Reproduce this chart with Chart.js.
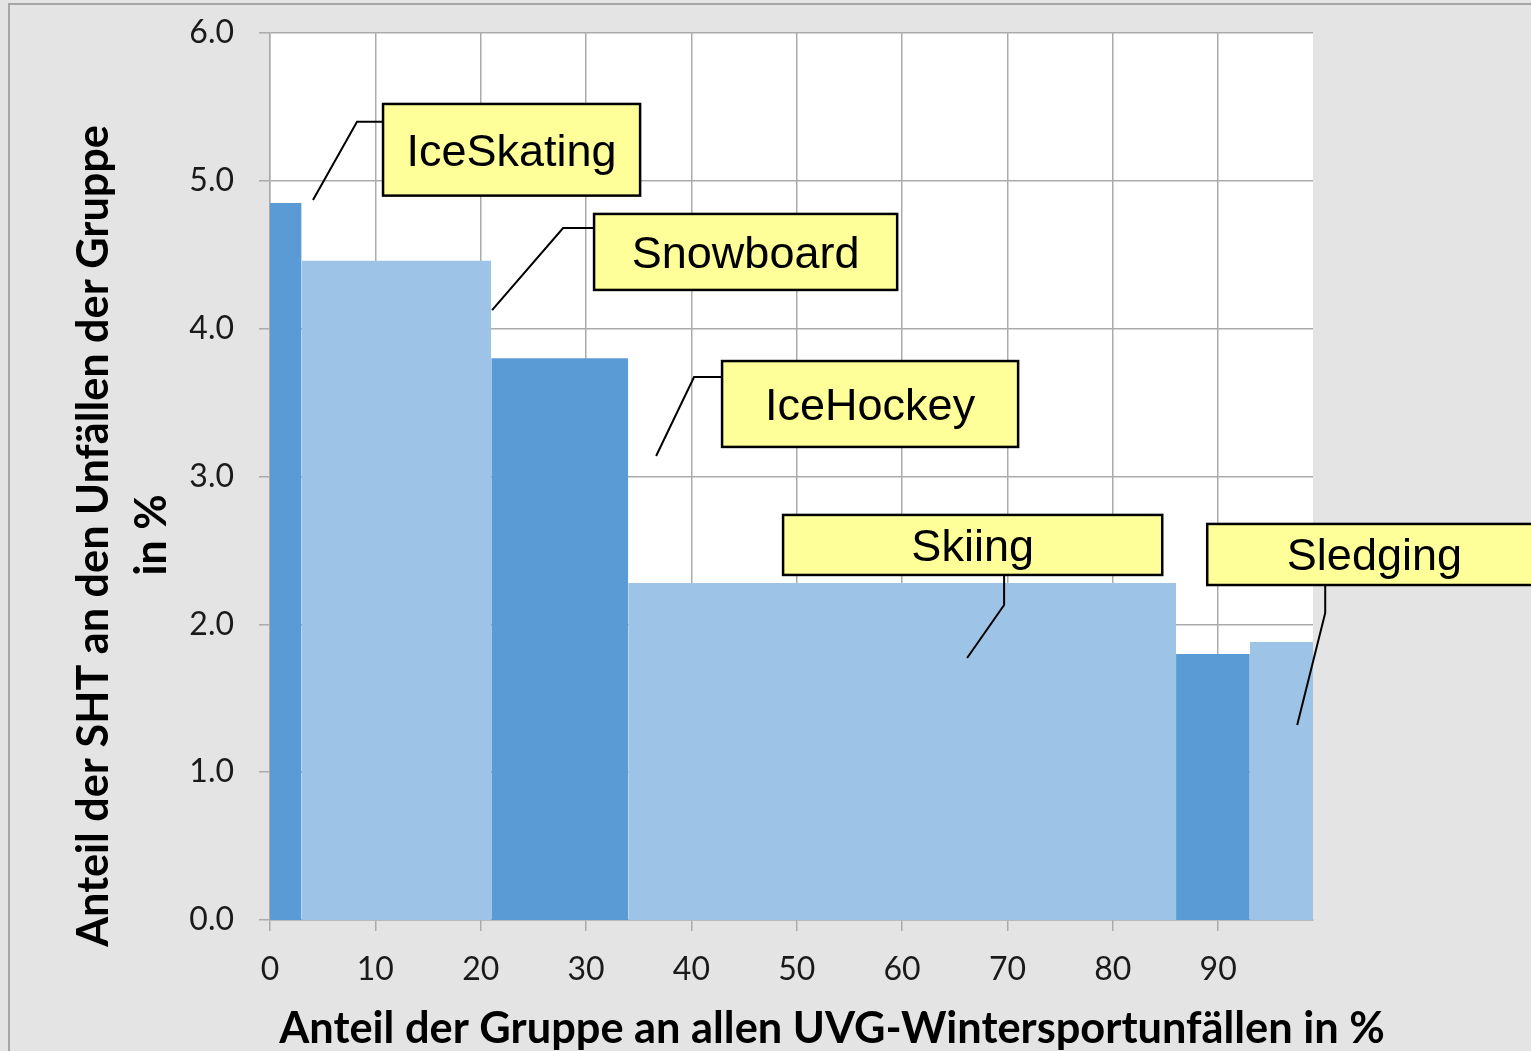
<!DOCTYPE html>
<html>
<head>
<meta charset="utf-8">
<script src="https://cdn.jsdelivr.net/npm/chart.js@4/dist/chart.umd.min.js"></script>
<style>
  html, body { margin: 0; padding: 0; background: #e4e4e4; }
  #c { display: block; }
</style>
</head>
<body>
<canvas id="c" width="1531" height="1051"></canvas>
<script>
// ---- data ----
const groups = ['IceSkating', 'Snowboard', 'IceHockey', 'Skiing', 'Other', 'Sledging'];
const groupShare = [3.0, 18.0, 13.0, 52.0, 7.0, 6.0];      // share of group in all winter sport accidents (%), bar widths
const shtShare = [4.85, 4.46, 3.80, 2.28, 1.80, 1.88];     // share of SHT in the group's accidents (%), bar heights
const xTicks = [0, 10, 20, 30, 40, 50, 60, 70, 80, 90];
const yTicks = [0, 1, 2, 3, 4, 5, 6];
const calloutTexts = ['IceSkating', 'Snowboard', 'IceHockey', 'Skiing', 'Sledging'];
const xTitle = 'Anteil der Gruppe an allen UVG-Wintersportunfällen in %';
const yTitleLines = ['Anteil der SHT an den Unfällen der Gruppe', 'in %'];

// ---- layout / style (data coordinates for callouts) ----
const calloutLayout = [
  { box: [10.73, 35.13, 5.52, 4.90], leader: [[4.08, 4.87], [8.26, 5.40], [10.73, 5.40]] },
  { box: [30.76, 59.53, 4.776, 4.262], leader: [[21.08, 4.126], [27.82, 4.681], [30.76, 4.681]] },
  { box: [42.91, 71.01, 3.781, 3.200], leader: [[36.65, 3.139], [40.25, 3.673], [42.91, 3.673]] },
  { box: [48.70, 84.69, 2.740, 2.334], leader: [[69.68, 2.334], [69.68, 2.131], [66.17, 1.772]] },
  { box: [88.96, 120.7, 2.679, 2.266], leader: [[100.16, 2.266], [100.16, 2.077], [97.50, 1.319]] }
];
const DARK = '#5b9bd5', LIGHT = '#9dc3e6', GRID = '#ababab';

const xEdges = groupShare.reduce((acc, w) => { acc.push(acc[acc.length - 1] + w); return acc; }, [0]);
const datasets = shtShare.map((h, i) => ({
  label: groups[i],
  data: [{ x: xEdges[i], y: 0 }, { x: xEdges[i], y: h }, { x: xEdges[i + 1], y: h }, { x: xEdges[i + 1], y: 0 }],
  fill: 'origin',
  backgroundColor: i % 2 === 0 ? DARK : LIGHT,
  borderColor: 'rgba(0,0,0,0)',
  borderWidth: 0,
  pointRadius: 0,
  tension: 0
}));

const framePlugin = {
  id: 'frame',
  beforeDraw(chart) {
    const ctx = chart.ctx, a = chart.chartArea;
    ctx.save();
    ctx.fillStyle = '#e4e4e4';
    ctx.fillRect(0, 0, chart.width, chart.height);
    ctx.strokeStyle = '#a6a6a6';
    ctx.lineWidth = 2;
    ctx.beginPath();
    ctx.moveTo(9, chart.height);
    ctx.lineTo(9, 4);
    ctx.lineTo(chart.width, 4);
    ctx.stroke();
    ctx.fillStyle = '#ffffff';
    ctx.fillRect(a.left, a.top, a.right - a.left, a.bottom - a.top);
    ctx.restore();
  }
};

function fitFont(ctx, text, weight, family, targetW) {
  ctx.font = `${weight} 100px ${family}`;
  const w = ctx.measureText(text).width;
  return 100 * targetW / w;
}

const overlayPlugin = {
  id: 'overlay',
  afterDatasetsDraw(chart) {
    const ctx = chart.ctx, xs = chart.scales.x, ys = chart.scales.y;
    ctx.save();
    calloutLayout.forEach((c, i) => {
      const x0 = xs.getPixelForValue(c.box[0]), x1 = xs.getPixelForValue(c.box[1]);
      const y0 = ys.getPixelForValue(c.box[2]), y1 = ys.getPixelForValue(c.box[3]);
      ctx.strokeStyle = '#000';
      ctx.lineWidth = 2;
      ctx.beginPath();
      c.leader.forEach((p, k) => {
        const px = xs.getPixelForValue(p[0]), py = ys.getPixelForValue(p[1]);
        if (k === 0) ctx.moveTo(px, py); else ctx.lineTo(px, py);
      });
      ctx.stroke();
      ctx.fillStyle = '#ffff99';
      ctx.fillRect(x0, y0, x1 - x0, y1 - y0);
      ctx.lineWidth = 2.5;
      ctx.strokeRect(x0, y0, x1 - x0, y1 - y0);
      ctx.fillStyle = '#000';
      ctx.font = '45px "Liberation Sans", Arial, sans-serif';
      ctx.textAlign = 'center';
      ctx.textBaseline = 'alphabetic';
      ctx.fillText(calloutTexts[i], (x0 + x1) / 2, (y0 + y1) / 2 + 16);
    });
    ctx.restore();
  },
  afterDraw(chart) {
    const ctx = chart.ctx;
    ctx.save();
    ctx.fillStyle = '#000';
    ctx.textAlign = 'center';
    ctx.textBaseline = 'alphabetic';
    let fs = fitFont(ctx, xTitle, 'bold', 'Lato', 1106);
    ctx.font = `bold ${fs}px Lato`;
    ctx.fillText(xTitle, 832, 1043);
    fs = fitFont(ctx, yTitleLines[0], 'bold', 'Lato', 822);
    ctx.font = `bold ${fs}px Lato`;
    ctx.save();
    ctx.translate(108, 536);
    ctx.rotate(-Math.PI / 2);
    ctx.fillText(yTitleLines[0], 0, 0);
    ctx.restore();
    ctx.save();
    ctx.translate(166, 535);
    ctx.rotate(-Math.PI / 2);
    ctx.fillText(yTitleLines[1], 0, 0);
    ctx.restore();
    ctx.restore();
  }
};

const zeroPad = s => { s.paddingTop = 0; s.paddingBottom = 0; s.paddingLeft = 0; s.paddingRight = 0; };

new Chart(document.getElementById('c'), {
  type: 'line',
  data: { datasets },
  options: {
    responsive: false,
    animation: false,
    events: [],
    layout: { padding: { left: 0, top: 33, right: 218, bottom: 0 } },
    plugins: { legend: { display: false }, tooltip: { enabled: false } },
    scales: {
      x: {
        type: 'linear',
        min: 0,
        max: xEdges[xEdges.length - 1],
        afterBuildTicks: s => { s.ticks = xTicks.map(v => ({ value: v })); },
        afterFit: s => { s.height = 131; zeroPad(s); },
        grid: { color: GRID, lineWidth: 1.5, tickLength: 11, drawTicks: true },
        border: { color: GRID, width: 1.5 },
        ticks: { color: '#1a1a1a', font: { family: 'Lato', size: 32 }, padding: 19, maxRotation: 0, autoSkip: false }
      },
      y: {
        type: 'linear',
        min: 0,
        max: 6,
        afterBuildTicks: s => { s.ticks = yTicks.map(v => ({ value: v })); },
        afterFit: s => { s.width = 270; zeroPad(s); },
        grid: { color: GRID, lineWidth: 1.5, tickLength: 11, drawTicks: true },
        border: { color: GRID, width: 1.5 },
        ticks: { color: '#1a1a1a', font: { family: 'Lato', size: 32 }, padding: 25, callback: v => Number(v).toFixed(1) }
      }
    }
  },
  plugins: [framePlugin, overlayPlugin]
});
</script>
</body>
</html>
